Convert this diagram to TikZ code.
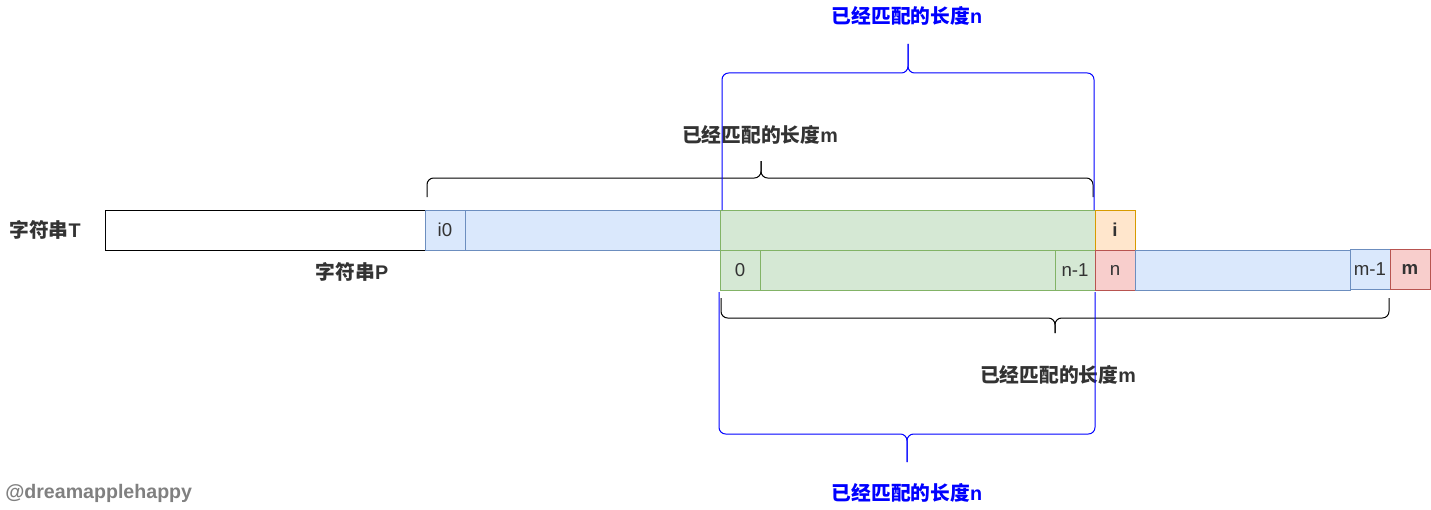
\documentclass[tikz,border=0pt]{standalone}
\usepackage{fontspec}
\setmainfont{Liberation Sans}
\newfontfamily\cjk{Noto Sans CJK SC}
\definecolor{txtgray}{HTML}{333333}
\definecolor{bluefill}{HTML}{DAE8FC}
\definecolor{blueline}{HTML}{6C8EBF}
\definecolor{greenfill}{HTML}{D5E8D4}
\definecolor{greenline}{HTML}{82B366}
\definecolor{orangefill}{HTML}{FFE6CC}
\definecolor{orangeline}{HTML}{D79B00}
\definecolor{redfill}{HTML}{F8CECC}
\definecolor{redline}{HTML}{B85450}
\tikzset{
  cell/.style={rectangle, inner sep=0pt, minimum width=30pt, minimum height=30pt,
    line width=0.75pt, font=\fontsize{14}{16}\selectfont, text=txtgray},
  bluecell/.style={cell, draw=blueline, fill=bluefill},
  greencell/.style={cell, draw=greenline, fill=greenfill},
  orangecell/.style={cell, draw=orangeline, fill=orangefill},
  redcell/.style={cell, draw=redline, fill=redfill},
  lbl/.style={font=\fontsize{14.8}{17}\selectfont\bfseries, text=txtgray, inner sep=0pt},
  brace/.style={line width=0.75pt, rounded corners=5pt}
}
\begin{document}
\begin{tikzpicture}[x=0.75pt, y=-0.75pt]
    \useasboundingbox (0, 0) rectangle (1431, 510);

    \node (nameT) [lbl] at (45, 230) {{\cjk 字符串}T};
    \node (strT) [cell, draw=black, minimum width=240pt] at (265, 230) {};
    \node (i0) [bluecell] at (445, 230) {i0};
    \node (restT) [bluecell, minimum width=191.25pt] at (592.5, 230) {};
    \node (matchT) [greencell, minimum width=281.25pt] at (907.5, 230) {};
    \node (i) [orangecell, font=\fontsize{14}{16}\selectfont\bfseries] at (1115, 230) {i};

    \node (nameP) [lbl] at (352, 272) {{\cjk 字符串}P};
    \node (p0) [greencell] at (740, 270) {0};
    \node (pmid) [greencell, minimum width=221.25pt] at (907.5, 270) {};
    \node (pn1) [greencell] at (1075, 270) {n-1};
    \node (pn) [redcell] at (1115, 270) {n};
    \node (prest) [bluecell, minimum width=161.25pt] at (1242.5, 270) {};
    \node (pm1) [bluecell, minimum height=29.6pt] at (1370, 269.5) {m-1};
    \node (pm) [redcell, font=\fontsize{14}{16}\selectfont\bfseries] at (1410, 269.5) {m};

    \node (lenTopN) [lbl, text=blue] at (907, 16) {{\cjk 已经匹配的长度}n};
    \node (lenTopM) [lbl] at (760, 135) {{\cjk 已经匹配的长度}m};
    \node (lenBotM) [lbl] at (1058, 375) {{\cjk 已经匹配的长度}m};
    \node (lenBotN) [lbl, text=blue] at (907, 493) {{\cjk 已经匹配的长度}n};
    \node (mark) [lbl, text=gray, anchor=west, font=\fontsize{14.7}{17}\selectfont\bfseries] at (5, 493) {@dreamapplehappy};

    % Klammern
    \draw[brace] (427, 197) |- (761, 178) -- (761, 161);
    \draw[brace] (1093, 197) |- (761, 178) -- (761, 161);
    \draw[brace, blue] (722, 210) |- (908, 73) -- (908, 44);
    \draw[brace, blue] (1094, 210) |- (908, 73) -- (908, 44);
    \draw[brace] (721, 298) |- (1055, 318) -- (1055, 333);
    \draw[brace] (1389, 298) |- (1055, 318) -- (1055, 333);
    \draw[brace, blue] (719, 292) |- (907, 434) -- (907, 462);
    \draw[brace, blue] (1095, 292) |- (907, 434) -- (907, 462);
\end{tikzpicture}
\end{document}
